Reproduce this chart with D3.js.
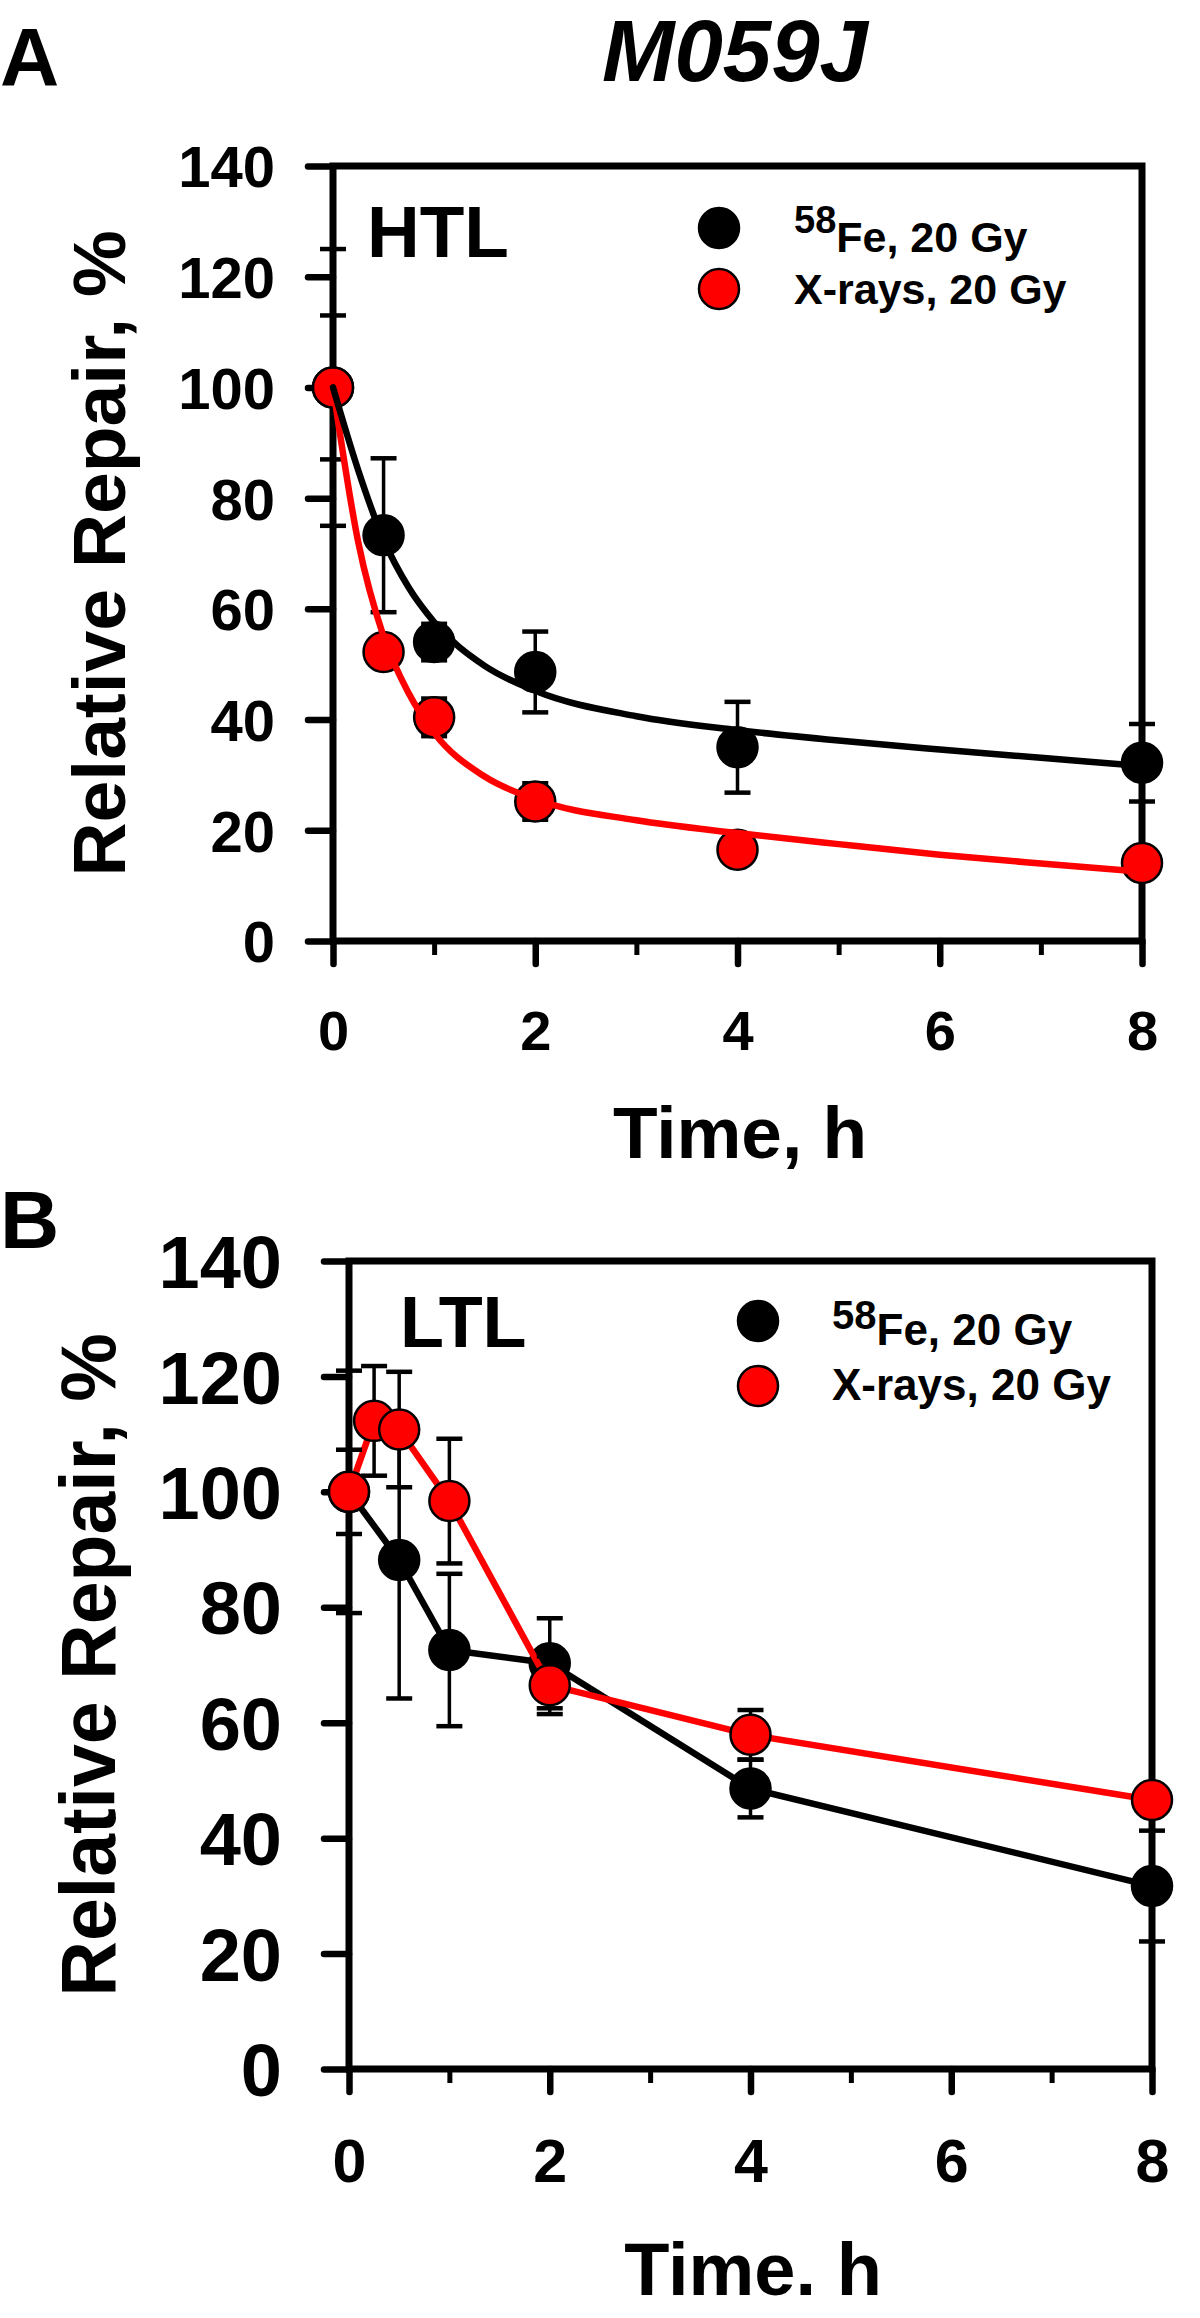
<!DOCTYPE html>
<html><head><meta charset="utf-8">
<script src="https://cdn.jsdelivr.net/npm/d3@7"></script>
<style>body{margin:0;background:#fff}svg{display:block}</style>
</head><body><svg id="c" width="1200" height="2318"></svg>
<script>
// ---------- data ----------
const xTicks=[0,2,4,6,8];
const xMinorTicks=[1,3,5,7];
const yTicks=[0,20,40,60,80,100,120,140];
const seriesFe="Fe, 20 Gy", seriesFeSup="58", seriesX="X-rays, 20 Gy";

// Panel A: HTL
const htlFeTime=[0,0.5,1,2,4,8];
const htlFe=[100,73.3,54.0,48.6,35.0,32.2];
const htlFeErr=[25,13.9,3.3,7.3,8.2,7.0];
const htlXTime=[0,0.5,1,2,4,8];
const htlX=[100,52.2,40.4,25.2,16.5,14.1];
const htlXErr=[13,1.5,3.4,3.3,1.0,1.0];
// fitted curves
const htlFitTime=[0,0.25,0.5,0.75,1,1.5,2,3,4,5,6,7,8];
const htlFeFit=[100,85,72.5,63.8,57.6,49.7,45.2,40.6,38.1,36.2,34.6,33.1,31.6];
const htlXFit=[100,72,55,44.7,37.6,29.7,25.6,21.8,19.5,17.5,15.6,14.0,12.5];

// Panel B: LTL
const ltlFeTime=[0,0.5,1,2,4,8];
const ltlFe=[100,88.2,72.6,70.3,48.6,31.7];
const ltlFeErr=[21,24,13.2,7.8,5.0,9.6];
const ltlXTime=[0,0.25,0.5,1,2,4,8];
const ltlX=[100,112.3,110.8,98.4,66.5,57.9,46.6];
const ltlXErr=[7.3,9.5,10,10.8,5.0,4.3,1.0];

// ---------- drawing ----------
const svg=d3.select("#c");
const FONT="'Liberation Sans', Arial, Helvetica, sans-serif";
const RED="#ff0000";
const R=20;

svg.append("rect").attr("width",1200).attr("height",2318).attr("fill","#fff");

function txt(g,x,y,s,size,opts={}){
  return g.append("text").attr("x",x).attr("y",y).text(s)
    .attr("font-family",FONT).attr("font-weight","bold").attr("font-size",size)
    .attr("font-style",opts.italic?"italic":"normal")
    .attr("text-anchor",opts.anchor||"start").attr("fill","#000");
}

function drawPanel(o){
  const g=svg.append("g");
  const x=d3.scaleLinear().domain([0,8]).range(o.xr);
  const y=d3.scaleLinear().domain([0,140]).range(o.yr);

  // y axis ticks + labels
  const ya=g.append("g").attr("transform",`translate(${x(0)},0)`)
    .call(d3.axisLeft(y).tickValues(yTicks).tickSize(25).tickSizeOuter(0).tickPadding(o.yPad).tickFormat(d3.format("d")));
  ya.select(".domain").remove();
  ya.selectAll(".tick line").attr("stroke","#000").attr("stroke-width",6.5).attr("stroke-linecap","round");
  ya.selectAll(".tick text").attr("font-family",FONT).attr("font-weight","bold").attr("font-size",o.yFs).attr("fill","#000").attr("dy","0.36em");

  // x axis major
  const xa=g.append("g").attr("transform",`translate(0,${y(0)})`)
    .call(d3.axisBottom(x).tickValues(xTicks).tickSize(23).tickSizeOuter(0).tickPadding(o.xPad).tickFormat(d3.format("d")));
  xa.select(".domain").remove();
  xa.selectAll(".tick line").attr("stroke","#000").attr("stroke-width",6.5).attr("stroke-linecap","round");
  xa.selectAll(".tick text").attr("font-family",FONT).attr("font-weight","bold").attr("font-size",o.xFs).attr("fill","#000");
  // x axis minor
  const xm=g.append("g").attr("transform",`translate(0,${y(0)})`)
    .call(d3.axisBottom(x).tickValues(xMinorTicks).tickSize(14).tickSizeOuter(0).tickFormat(""));
  xm.select(".domain").remove();
  xm.selectAll(".tick line").attr("stroke","#000").attr("stroke-width",5);

  // frame
  g.append("path").attr("d",`M${x(0)},${y(140)}H${x(8)}V${y(0)}H${x(0)}Z`)
    .attr("fill","none").attr("stroke","#000").attr("stroke-width",7).attr("stroke-linejoin","miter");

  // titles
  txt(g,0,0,"Relative Repair, %",o.ytFs,{anchor:"middle"})
    .attr("x",null).attr("y",null)
    .attr("transform",`translate(${o.ytX},${(y(0)+y(140))/2}) rotate(-90)`);
  txt(g,o.xtX,o.xtY,o.xTitle,o.xtFs,{anchor:"middle"});
  txt(g,o.tagX,o.tagY,o.tag,o.tagFs);

  const sFe=o.fe, sX=o.xr_;

  function errs(s){
    const d=s.t.map((t,i)=>({t,v:s.v[i],e:s.e[i]}));
    const eg=g.append("g").attr("stroke","#000").attr("stroke-width",3.5);
    eg.selectAll("line.v").data(d).join("line")
      .attr("x1",d=>x(d.t)).attr("x2",d=>x(d.t)).attr("y1",d=>y(d.v-d.e)).attr("y2",d=>y(d.v+d.e));
    eg.selectAll("line.a").data(d).join("line")
      .attr("x1",d=>x(d.t)-13).attr("x2",d=>x(d.t)+13).attr("y1",d=>y(d.v+d.e)).attr("y2",d=>y(d.v+d.e)).attr("stroke-width",4.5);
    eg.selectAll("line.b").data(d).join("line")
      .attr("x1",d=>x(d.t)-13).attr("x2",d=>x(d.t)+13).attr("y1",d=>y(d.v-d.e)).attr("y2",d=>y(d.v-d.e)).attr("stroke-width",4.5);
  }
  function marks(s,fill){
    g.append("g").selectAll("circle").data(s.t.map((t,i)=>({t,v:s.v[i]}))).join("circle")
      .attr("cx",d=>x(d.t)).attr("cy",d=>y(d.v)).attr("r",R)
      .attr("fill",fill).attr("stroke","#000").attr("stroke-width",2.5);
  }
  function line(tt,vv,color,curve){
    const ln=d3.line().x(d=>x(d[0])).y(d=>y(d[1])).curve(curve);
    g.append("path").datum(tt.map((t,i)=>[t,vv[i]])).attr("d",ln)
      .attr("fill","none").attr("stroke",color).attr("stroke-width",6.5).attr("stroke-linejoin","round").attr("stroke-linecap","round");
  }

  if(o.fit){
    errs(sFe); marks(sFe,"#000");
    errs(sX); marks(sX,RED);
    line(o.fit.t,o.fit.x,RED,d3.curveMonotoneX);
    line(o.fit.t,o.fit.fe,"#000",d3.curveMonotoneX);
  } else {
    line(sFe.t,sFe.v,"#000",d3.curveLinear);
    errs(sFe); marks(sFe,"#000");
    line(sX.t,sX.v,RED,d3.curveLinear);
    errs(sX); marks(sX,RED);
  }

  // panel label (HTL / LTL)
  txt(g,o.lblX,o.lblY,o.lbl,o.lblFs);

  // legend
  const L=o.leg;
  g.append("circle").attr("cx",L.cx).attr("cy",L.y1).attr("r",R).attr("fill","#000").attr("stroke","#000").attr("stroke-width",2.5);
  g.append("circle").attr("cx",L.cx).attr("cy",L.y2).attr("r",R).attr("fill",RED).attr("stroke","#000").attr("stroke-width",2.5);
  const t1=g.append("text").attr("x",L.tx).attr("y",L.b1).attr("font-family",FONT).attr("font-weight","bold").attr("fill","#000");
  t1.append("tspan").attr("font-size",L.supFs).attr("dy",-L.supRise).text(seriesFeSup);
  t1.append("tspan").attr("font-size",L.fs).attr("dy",L.supRise).text(seriesFe);
  txt(g,L.tx,L.b2,seriesX,L.fs);
}

// figure title and panel tags
txt(svg,735,81,"M059J",87,{anchor:"middle",italic:true});

drawPanel({
  xr:[333,1142], yr:[941,166],
  yPad:33, yFs:58, xPad:46, xFs:56,
  ytFs:75, ytX:125, xTitle:"Time, h", xtX:740, xtY:1158, xtFs:73,
  tag:"A", tagX:0, tagY:85, tagFs:82,
  lbl:"HTL", lblX:367, lblY:257, lblFs:73,
  fe:{t:htlFeTime,v:htlFe,e:htlFeErr},
  xr_:{t:htlXTime,v:htlX,e:htlXErr},
  fit:{t:htlFitTime,fe:htlFeFit,x:htlXFit},
  leg:{cx:719,y1:228,y2:289,tx:794,b1:252,b2:304,fs:43,supFs:38,supRise:19}
});

drawPanel({
  xr:[349,1152], yr:[2069,1261],
  yPad:42, yFs:74, xPad:47, xFs:61,
  ytFs:77, ytX:115, xTitle:"Time. h", xtX:753, xtY:2295, xtFs:74,
  tag:"B", tagX:0, tagY:1248, tagFs:82,
  lbl:"LTL", lblX:400, lblY:1347, lblFs:72,
  fe:{t:ltlFeTime,v:ltlFe,e:ltlFeErr},
  xr_:{t:ltlXTime,v:ltlX,e:ltlXErr},
  fit:null,
  leg:{cx:758,y1:1321,y2:1386,tx:832,b1:1345,b2:1400,fs:44,supFs:40,supRise:16}
});
</script></body></html>
